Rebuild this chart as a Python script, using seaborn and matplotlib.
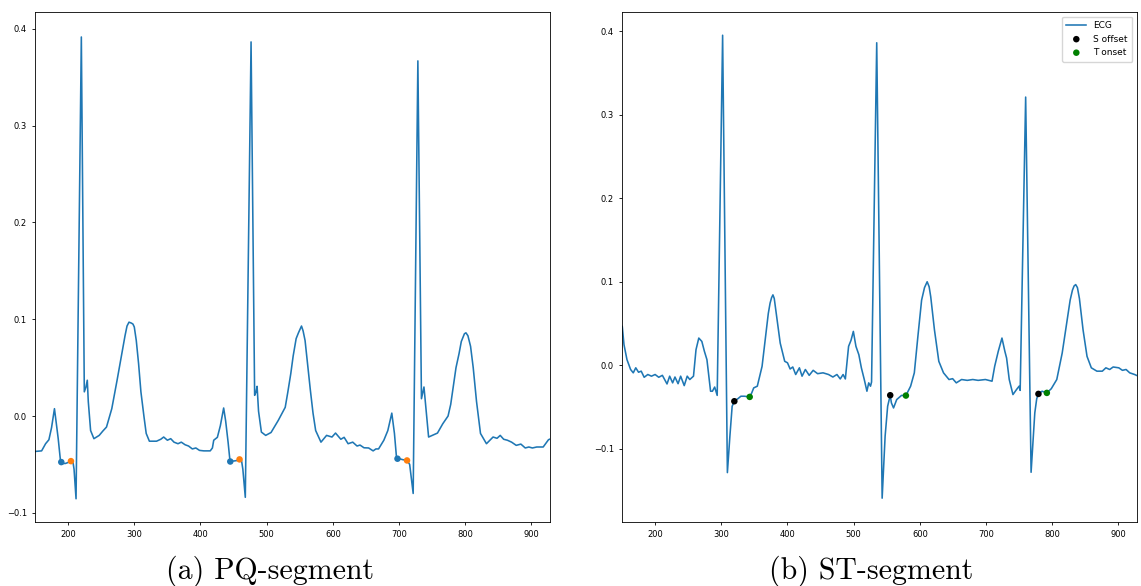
import matplotlib
matplotlib.use("Agg")
import matplotlib.pyplot as plt
import seaborn as sns
import pandas as pd

# ---------------- data: (a) PQ-segment ----------------
pq_x = [150, 160, 166, 171, 175, 179.4, 183, 185, 188.6, 192, 196, 200, 204, 207, 209, 212,
        220, 224.5, 227, 229, 230.5, 234, 239, 247, 252.5, 258, 266, 274, 282, 286, 289, 292,
        295.7, 298, 300, 303, 306.5, 310, 314.7, 318, 322.8, 333.6, 340, 344.4, 350, 355,
        360, 366, 371, 376.8, 382, 387.7, 393, 398.5, 405, 414.7, 418, 420, 425.5, 430, 435,
        438, 441.7, 444.5, 450, 455, 459, 462, 464, 467.7, 476.4, 481.8, 484, 485.5, 487.7,
        492, 498.5, 506.6, 517.5, 528, 532, 536.4, 540, 544.5, 548, 552.6, 555, 558, 562,
        566, 570, 574, 582, 590.5, 598.6, 604, 612, 617, 623, 630, 636.5, 641, 647, 654,
        660.8, 665, 669, 677, 683, 689, 693, 696, 700, 705, 712, 716, 721.3, 728.4, 733.8,
        736, 737.6, 740, 744.6, 750, 758, 766, 774, 778, 782.5, 786, 790.6, 794, 798.7, 801,
        804, 808, 812, 817, 823, 832, 842, 848, 852.8, 858, 863.6, 870, 877, 884, 890.6, 896,
        901.4, 908, 917.7, 925.7, 929]
pq_y = [-0.0366, -0.036, -0.0286, -0.0245, -0.012, 0.0076, -0.012, -0.023, -0.047, -0.049,
        -0.049, -0.048, -0.0466, -0.046, -0.055, -0.0855,
        0.3917, 0.025, 0.030, 0.037, 0.015, -0.015, -0.0234, -0.020, -0.0155, -0.0114, 0.0076,
        0.037, 0.068, 0.083, 0.093, 0.097,
        0.096, 0.095, 0.092, 0.078, 0.054, 0.025, -0.001, -0.018, -0.026, -0.026, -0.024,
        -0.0217, -0.025, -0.0234,
        -0.027, -0.0286, -0.027, -0.0297, -0.031, -0.034, -0.033, -0.0355, -0.036, -0.036,
        -0.033, -0.025, -0.022, -0.01, 0.0083,
        -0.005, -0.027, -0.046, -0.0465, -0.046, -0.0448, -0.046, -0.055, -0.084, 0.3866,
        0.0214, 0.025, 0.0307, 0.005,
        -0.0166, -0.020, -0.017, -0.0045, 0.009, 0.025, 0.0438, 0.062, 0.080, 0.086, 0.093,
        0.088, 0.078, 0.052,
        0.0266, 0.003, -0.015, -0.027, -0.020, -0.0217, -0.0176, -0.024, -0.022, -0.0286,
        -0.027, -0.031, -0.030, -0.0328, -0.033,
        -0.036, -0.034, -0.034, -0.025, -0.015, 0.003, -0.018, -0.042, -0.044, -0.045,
        -0.0459, -0.050, -0.080, 0.367, 0.0179,
        0.025, 0.030, 0.012, -0.0217, -0.020, -0.0176, -0.008, 0.0, 0.012, 0.0334, 0.050,
        0.0645, 0.077, 0.085, 0.086,
        0.083, 0.072, 0.050, 0.015, -0.018, -0.0286, -0.0217, -0.023, -0.020, -0.024,
        -0.025, -0.027, -0.0303, -0.029, -0.033, -0.032,
        -0.033, -0.032, -0.032, -0.0245, -0.0235]

pq_on_x = [189.7, 445.0, 697.6]
pq_on_y = [-0.0476, -0.0470, -0.0441]
pq_off_x = [204.3, 459.0, 712.0]
pq_off_y = [-0.0466, -0.0448, -0.0459]

# ---------------- data: (b) ST-segment ----------------
st_x = [150.4, 153, 157.5, 163, 167, 170.8, 175, 179, 183.5, 189, 194.5, 200, 205.5, 211,
        218, 222, 226.5, 230, 234.7, 238.6, 244, 248.5, 252.4, 258, 261.8, 266, 270.6,
        274.5, 278.3, 283.8, 286.6, 290, 293.8, 302, 309.2, 313, 316.4, 319.7, 325, 329.6,
        335, 342.9, 346, 349, 354.4, 361.6, 368, 371, 373.7, 376, 378, 380, 383, 389, 395.8,
        400, 404, 408, 412.4, 418, 422, 427, 432.8, 438.8, 445.5, 453.7, 462, 468.6, 474.7,
        479.7, 484, 487.4, 492.3, 496, 499.5, 503.4, 507.8, 511.6, 516, 520, 522.7, 525.4,
        527, 534.8, 543, 547.5, 551.3, 555.2, 557, 560.2, 565, 572.3, 578.9, 586, 591.6, 597,
        602.6, 607, 611, 614, 616.4, 622, 628.6, 635.7, 644, 649.5, 655, 663, 671.6, 679.9,
        688, 699, 709, 713, 718.4, 724, 728.4, 731, 735, 740.6, 746, 749.9, 751.5, 759.8, 768,
        773.6, 776.5, 779.1, 784.6, 791.8, 798.5, 806.8, 815, 823.3, 827, 830.5, 833, 835.4,
        838, 841, 846.5, 852.5, 859, 867.4, 875.6, 881, 886.7, 892, 900.5, 906, 911.5, 917,
        924.4, 930]
st_y = [0.0465, 0.0247, 0.0068, -0.005, -0.009, -0.003, -0.0083, -0.007, -0.0143, -0.011,
        -0.013, -0.011, -0.0143, -0.012,
        -0.0223, -0.013, -0.021, -0.014, -0.022, -0.013, -0.0243, -0.013, -0.017, -0.013,
        0.0187, 0.0326, 0.0286,
        0.0167, 0.0068, -0.031, -0.031, -0.026, -0.036, 0.395, -0.1284, -0.0847, -0.049,
        -0.043, -0.040, -0.037,
        -0.037, -0.0378, -0.033, -0.027, -0.025, -0.0012, 0.0425, 0.062, 0.0744, 0.081,
        0.0843, 0.080, 0.0624, 0.0266, 0.0048,
        0.003, -0.0044, -0.002, -0.011, -0.003, -0.013, -0.005, -0.012, -0.006, -0.010,
        -0.009, -0.011, -0.014, -0.011,
        -0.0163, -0.011, -0.0163, 0.0227, 0.030, 0.0406, 0.0227, 0.0127, -0.003, -0.017,
        -0.031, -0.021, -0.025,
        -0.020, 0.386, -0.159, -0.0847, -0.049, -0.0358, -0.045, -0.051, -0.041, -0.036,
        -0.0362, -0.025, -0.009, 0.0346,
        0.078, 0.093, 0.100, 0.094, 0.082, 0.0425, 0.0048, -0.009, -0.017, -0.016, -0.021,
        -0.017, -0.018, -0.017,
        -0.018, -0.017, -0.019, -0.0012, 0.0167, 0.0326, 0.0167, 0.0087, -0.017, -0.035,
        -0.029, -0.025, -0.030, 0.321, -0.128,
        -0.057, -0.040, -0.0342, -0.031, -0.033, -0.028, -0.017, 0.0147, 0.058, 0.078, 0.090,
        0.095, 0.0966,
        0.093, 0.080, 0.0425, 0.0107, -0.003, -0.007, -0.007, -0.003, -0.005, -0.002,
        -0.003, -0.006, -0.005, -0.009,
        -0.011, -0.013]

st_s_x = [319.7, 555.2, 779.1]
st_s_y = [-0.0430, -0.0358, -0.0342]
st_t_x = [342.9, 578.9, 791.8]
st_t_y = [-0.0378, -0.0362, -0.0330]

captions = ["(a) PQ-segment", "(b) ST-segment"]

# ---------------- figure ----------------
plt.rcParams.update({
    "font.size": 6,
    "xtick.labelsize": 6,
    "ytick.labelsize": 6,
    "xtick.major.size": 2.2,
    "ytick.major.size": 2.2,
    "axes.linewidth": 0.6,
    "xtick.major.width": 0.6,
    "ytick.major.width": 0.6,
})

W, H = 1141, 586
fig = plt.figure(figsize=(W / 100, H / 100), dpi=100)
ax1 = fig.add_axes([35 / W, (H - 522) / H, 515 / W, 510 / H])
ax2 = fig.add_axes([622 / W, (H - 522) / H, 515 / W, 510 / H])

blue = "#1f77b4"
orange = "#ff7f0e"

df_pq = pd.DataFrame({"x": pq_x, "y": pq_y})
sns.lineplot(data=df_pq, x="x", y="y", ax=ax1, color=blue, lw=1.15, estimator=None, sort=False)
sns.scatterplot(x=pq_on_x, y=pq_on_y, ax=ax1, color=blue, s=22, edgecolor="none", zorder=3)
sns.scatterplot(x=pq_off_x, y=pq_off_y, ax=ax1, color=orange, s=22, edgecolor="none", zorder=3)

df_st = pd.DataFrame({"x": st_x, "y": st_y})
sns.lineplot(data=df_st, x="x", y="y", ax=ax2, color=blue, lw=1.15, estimator=None,
             sort=False, label="ECG")
sns.scatterplot(x=st_s_x, y=st_s_y, ax=ax2, color="black", s=22, edgecolor="none",
                zorder=3, label="S offset")
sns.scatterplot(x=st_t_x, y=st_t_y, ax=ax2, color="green", s=22, edgecolor="none",
                zorder=3, label="T onset")
ax2.legend(loc="upper right", fontsize=6.5, frameon=True, borderpad=0.5, handlelength=2.2)

for ax in (ax1, ax2):
    ax.set_xlim(150, 928)
    ax.set_xticks([200, 300, 400, 500, 600, 700, 800, 900])
    ax.set_xlabel("")
    ax.set_ylabel("")
ax1.set_ylim(-0.1095, 0.4175)
ax1.set_yticks([-0.1, 0.0, 0.1, 0.2, 0.3, 0.4])
ax2.set_ylim(-0.1875, 0.4228)
ax2.set_yticks([-0.1, 0.0, 0.1, 0.2, 0.3, 0.4])

fig.text(270 / W, 1 - 571 / H, captions[0], ha="center", va="center",
         fontsize=21.5, family="cmr10")
fig.text(871 / W, 1 - 571 / H, captions[1], ha="center", va="center",
         fontsize=21.5, family="cmr10")

fig.savefig("out.png", dpi=100)
